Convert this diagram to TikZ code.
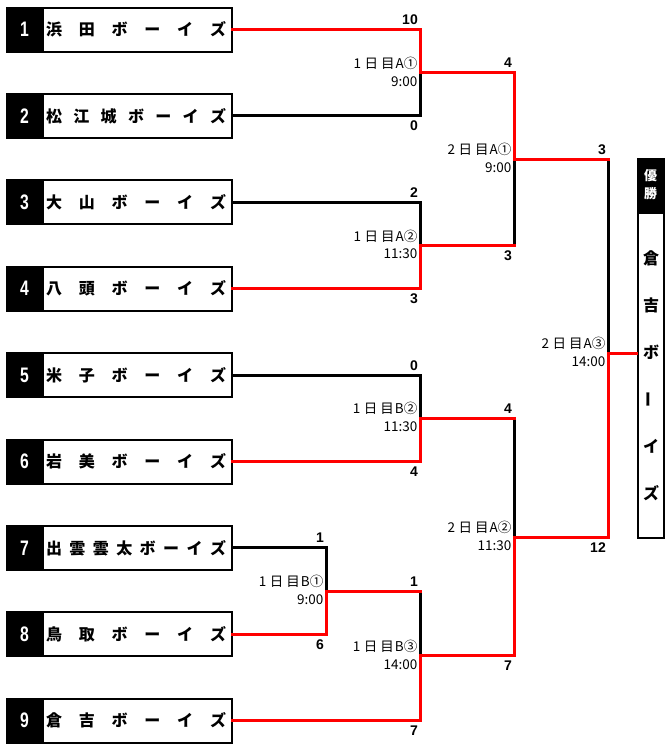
\documentclass[tikz,border=0pt]{standalone}
\usepackage{fontspec}
\usepackage{graphicx}
\newfontfamily\jp{Noto Sans CJK JP}
\newfontfamily\ar{Liberation Sans}
\definecolor{wred}{RGB}{255,0,0}
\tikzset{
  conn/.style={line width=3pt, line cap=rect, line join=miter},
  win/.style={conn, draw=wred},
  lose/.style={conn, draw=black},
  teambox/.style={draw, line width=2pt, minimum width=225pt, minimum height=44pt, inner sep=0pt, fill=white},
  champbox/.style={draw, line width=2pt, minimum width=26pt, minimum height=379pt, inner sep=0pt, fill=white},
  numtxt/.style={text=white, font=\ar\bfseries\fontsize{21}{21}\selectfont, inner sep=0pt},
  nametxt/.style={font=\jp\bfseries\fontsize{16}{16}\selectfont, inner sep=0pt, anchor=base},
  hdtxt/.style={text=white, font=\jp\bfseries\fontsize{13}{13}\selectfont, inner sep=0pt, anchor=base},
  score/.style={font=\ar\bfseries\fontsize{14}{14}\selectfont, inner sep=0pt, anchor=base east},
  lbl/.style={font=\jp\fontsize{13.5}{13.5}\selectfont, inner sep=0pt, anchor=base east},
}
\newcommand\teamrow[4]{%
  \node[teambox] (t#1) at (119,#2) {};
  \fill[black] (t#1.north west) rectangle ([xshift=38pt]t#1.south west);
  \node[numtxt] (n#1) at ([xshift=19pt]t#1.west) {\scalebox{0.75}[1]{#1}};
  \foreach \c [count=\k] in {#4} {
    \node[nametxt] (t#1c\k) at ({54+(\k-1)*164/(#3-1)}, #2+6.2) {\c};
  }
}
\newcommand\scoreup[4]{\node[score] (#1) at (#2-2,#3-5) {#4};}
\newcommand\scoredn[4]{\node[score] (#1) at (#2-2,#3+15) {#4};}
\newcommand\matchlbl[5]{%
  \node[lbl] (#1a) at (#2-2.5,#3-4.4) {#4};
  \node[lbl] (#1b) at (#2-2.5,#3+13.3) {#5};
}
\newcommand\dd[2]{#1\hspace{3.5pt}日\hspace{3pt}目\hspace{1pt}#2}
\begin{document}
\begin{tikzpicture}[x=1pt,y=-1pt]
\useasboundingbox (0,0) rectangle (670,750);

% teams
\teamrow{1}{29.5}{6}{浜,田,ボ,ー,イ,ズ}
\teamrow{2}{115.9}{7}{松,江,城,ボ,ー,イ,ズ}
\teamrow{3}{202.3}{6}{大,山,ボ,ー,イ,ズ}
\teamrow{4}{288.7}{6}{八,頭,ボ,ー,イ,ズ}
\teamrow{5}{375.1}{6}{米,子,ボ,ー,イ,ズ}
\teamrow{6}{461.5}{6}{岩,美,ボ,ー,イ,ズ}
\teamrow{7}{547.9}{8}{出,雲,雲,太,ボ,ー,イ,ズ}
\teamrow{8}{634.3}{6}{鳥,取,ボ,ー,イ,ズ}
\teamrow{9}{720.7}{6}{倉,吉,ボ,ー,イ,ズ}

% champion
\node[champbox] (champ) at (650.5,348) {};
\fill[black] (champ.north west) rectangle ([yshift=-56pt]champ.north east);
\node[hdtxt] (h1) at (650.5,180) {優};
\node[hdtxt] (h2) at (650.5,198) {勝};
\node[nametxt] (cc1) at (651,264) {倉};
\node[nametxt] (cc2) at (651,311) {吉};
\node[nametxt] (cc3) at (651,358) {ボ};
\node[nametxt, anchor=center] (cc4) at (651,399) {\rotatebox{90}{ー}};
\node[nametxt] (cc5) at (651,452) {イ};
\node[nametxt] (cc6) at (651,499) {ズ};

% junctions
\coordinate (m1) at (420,72.7);
\coordinate (m2) at (420,245.5);
\coordinate (m3) at (420,418.3);
\coordinate (m4) at (326,591.1);
\coordinate (m5) at (420,655.9);
\coordinate (r1) at (514,159.1);
\coordinate (r2) at (514,537.1);
\coordinate (f) at (608,353);
\coordinate (c2) at (r1 |- m2);
\coordinate (c3) at (r2 |- m3);
\coordinate (c4) at (m5 |- m4);
\coordinate (cA) at (f |- r1);

% losing paths
\draw[lose] (t2.east) -| (m1);
\draw[lose] (t3.east) -| (m2);
\draw[lose] (t5.east) -| (m3);
\draw[lose] (t7.east) -| (m4);
\draw[lose] (c2) -- (r1);
\draw[lose] (c3) -- (r2);
\draw[lose] (c4) -- (m5);
\draw[lose] (cA) -- (f);

% winning paths
\draw[win] (t1.east) -| (m1);
\draw[win] (t4.east) -| (m2);
\draw[win] (t6.east) -| (m3);
\draw[win] (t8.east) -| (m4);
\draw[win] (t9.east) -| (m5);
\draw[win] (m1) -| (r1);
\draw[win] (m2) -- (c2);
\draw[win] (m3) -- (c3);
\draw[win] (m4) -- (c4);
\draw[win] (m5) -| (r2);
\draw[win] (r1) -- (cA);
\draw[win] (r2) -| (f);
\draw[win] (f) -- (champ.west |- f);

% scores
\scoreup{s1}{420}{29.5}{10}
\scoredn{s2}{420}{115.9}{0}
\scoreup{s3}{420}{202.3}{2}
\scoredn{s4}{420}{288.7}{3}
\scoreup{s5}{420}{375.1}{0}
\scoredn{s6}{420}{461.5}{4}
\scoreup{s7}{326}{547.9}{1}
\scoredn{s8}{326}{634.3}{6}
\scoreup{s9}{420}{591.1}{1}
\scoredn{s10}{420}{720.7}{7}
\scoreup{s11}{514}{72.7}{4}
\scoredn{s12}{514}{245.5}{3}
\scoreup{s13}{514}{418.3}{4}
\scoredn{s14}{514}{655.9}{7}
\scoreup{s15}{608}{159.1}{3}
\scoredn{s16}{608}{537.1}{12}

% match labels
\matchlbl{l1}{420}{72.7}{\dd{1}{A①}}{9:00}
\matchlbl{l2}{420}{245.5}{\dd{1}{A②}}{11:30}
\matchlbl{l3}{420}{418.3}{\dd{1}{B②}}{11:30}
\matchlbl{l4}{326}{591.1}{\dd{1}{B①}}{9:00}
\matchlbl{l5}{420}{655.9}{\dd{1}{B③}}{14:00}
\matchlbl{l6}{514}{159.1}{\dd{2}{A①}}{9:00}
\matchlbl{l7}{514}{537.1}{\dd{2}{A②}}{11:30}
\matchlbl{l8}{608}{353}{\dd{2}{A③}}{14:00}
\end{tikzpicture}
\end{document}
